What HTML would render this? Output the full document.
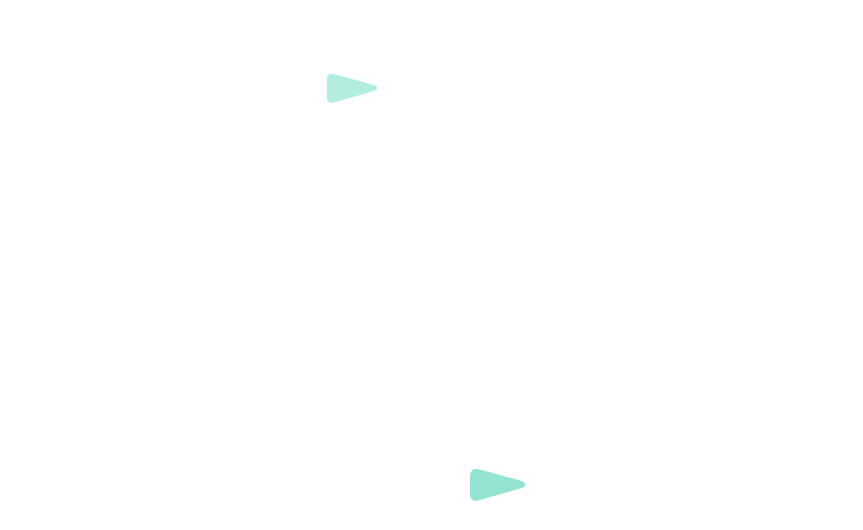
<!DOCTYPE html>
<html><head><meta charset="utf-8"><style>
html,body{margin:0;padding:0;background:#fff;width:863px;height:530px;overflow:hidden}
</style></head><body>
<svg width="863" height="530" viewBox="0 0 863 530" xmlns="http://www.w3.org/2000/svg">
<path d="M334 74 L374 85 Q380 88 374 91 L334 102.5 Q327 104 327 97 L327 80 Q327 73 334 74 Z" fill="#b3ede0"/>
<path d="M478 469 L522 481 Q529 485 522 488 L478 500.5 Q470 502 470 494 L470 477 Q470 468 478 469 Z" fill="#94e4d3"/>
</svg>
</body></html>
